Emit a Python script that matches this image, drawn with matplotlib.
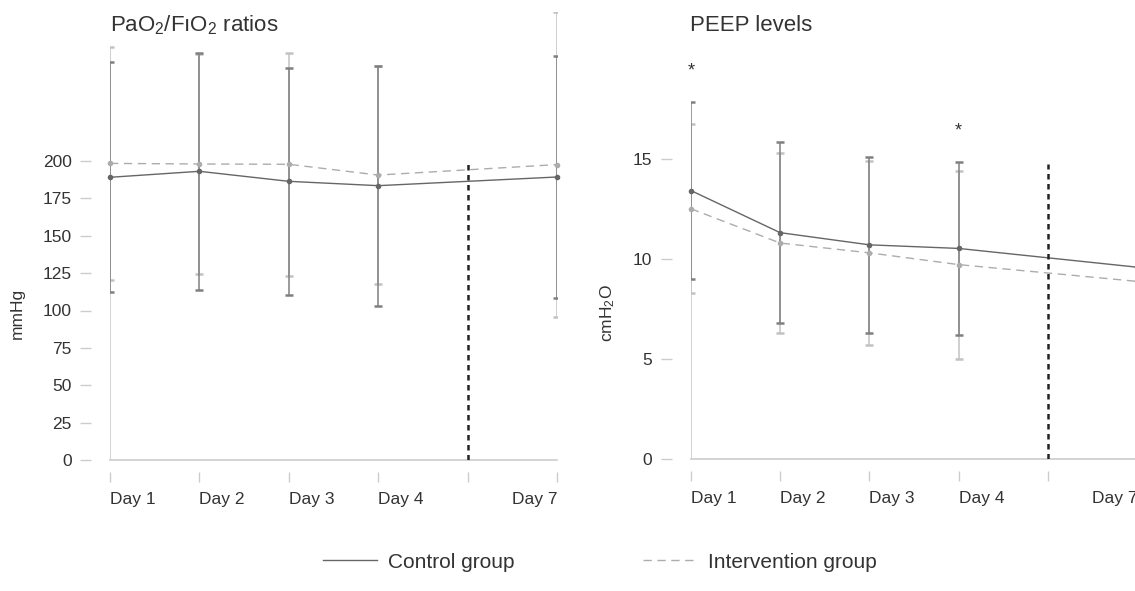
import matplotlib
matplotlib.use('Agg')
import matplotlib.pyplot as plt
from matplotlib.lines import Line2D

plt.rcParams['font.family'] = ['Liberation Sans', 'DejaVu Sans']
plt.rcParams['mathtext.fontset'] = 'custom'
plt.rcParams['mathtext.rm'] = 'Liberation Sans'

# x categories (position 4 is the unlabelled break between day 4 and day 7)
day_labels = ['Day 1', 'Day 2', 'Day 3', 'Day 4', '', 'Day 7']
day_pos = [0, 1, 2, 3, 5]

# PaO2/FiO2 ratios, mean and SD
pf_ctrl = [189.1, 193.1, 186.4, 183.5, 189.3]
pf_ctrl_sd = [77.0, 79.3, 76.0, 80.3, 80.8]
pf_int = [198.4, 198.0, 197.8, 190.6, 197.6]
pf_int_sd = [77.8, 73.6, 74.6, 73.2, 102.2]

# PEEP levels, mean and SD (day 7 bars fall outside the picture)
peep_ctrl = [13.44, 11.33, 10.72, 10.54, 9.60]
peep_ctrl_sd = [4.42, 4.53, 4.42, 4.31]
peep_int = [12.53, 10.81, 10.32, 9.73, 8.89]
peep_int_sd = [4.23, 4.49, 4.62, 4.71]

# significant days in PEEP panel (position, height)
star_pos = [0, 3]
star_y = [19.4, 16.4]

CTRL = '#666666'
CTRL_ERR = '#808080'
INT = '#acacac'
INT_ERR = '#c2c2c2'
AXC = '#cccccc'
TXT = '#333333'
FS = 12.5

W, H = 1135, 591
fig = plt.figure(figsize=(W / 100, H / 100), dpi=100)
ax1 = fig.add_axes([110 / W, 1 - 460 / H, 447 / W, 448.5 / H])
ax2 = fig.add_axes([690.8 / W, 1 - 459 / H, 446.5 / W, 447.5 / H])


def draw_panel(ax, ctrl, ctrl_sd, inter, inter_sd, ylim, yticks, break_top, ytop):
    ax.errorbar(day_pos[:len(inter_sd)], inter[:len(inter_sd)], yerr=inter_sd,
                fmt='none', ecolor=INT_ERR, elinewidth=1.1, capsize=2.8,
                capthick=1.8, zorder=2)
    ax.errorbar(day_pos[:len(ctrl_sd)], ctrl[:len(ctrl_sd)], yerr=ctrl_sd,
                fmt='none', ecolor=CTRL_ERR, elinewidth=1.1, capsize=2.8,
                capthick=1.8, zorder=3)
    ax.plot(day_pos, inter, color=INT, lw=1.0, dashes=(6, 4), marker='o',
            ms=3, mfc=INT, mec=INT, zorder=4, clip_on=False)
    ax.plot(day_pos, ctrl, color=CTRL, lw=1.0, marker='o', ms=3,
            mfc=CTRL, mec=CTRL, zorder=5, clip_on=False)
    ax.vlines(4, 0, break_top, color='#222222', lw=1.8,
              linestyles=(0, (2.2, 1.8)), zorder=6)

    ax.set_xlim(0, 5)
    ax.set_ylim(*ylim)
    ax.set_yticks(yticks)
    ax.set_xticks(range(len(day_labels)))
    ax.set_xticklabels(day_labels)

    for s in ['top', 'right']:
        ax.spines[s].set_visible(False)
    ax.spines['left'].set_position(('outward', 13.7))
    ax.spines['bottom'].set_position(('outward', 8.6))
    ax.spines['left'].set_visible(False)
    ax.spines['bottom'].set_visible(False)
    # axis lines at the data edge
    ax.axhline(0, color=AXC, lw=1.2, zorder=1, clip_on=False)
    ax.axvline(0, ymin=0, ymax=ytop / ylim[1], color=AXC, lw=1.2, zorder=1)

    ax.tick_params(axis='x', length=7.2, width=1, color=AXC, pad=7,
                   labelsize=FS, labelcolor=TXT)
    ax.tick_params(axis='y', length=8, width=1, color=AXC, pad=6,
                   labelsize=FS, labelcolor=TXT)
    for i, lab in enumerate(ax.get_xticklabels()):
        lab.set_horizontalalignment('right' if i == 5 else 'left')
    ax.patch.set_alpha(0)


draw_panel(ax1, pf_ctrl, pf_ctrl_sd, pf_int, pf_int_sd,
           (0, 300), range(0, 201, 25), 200, 200)
draw_panel(ax2, peep_ctrl, peep_ctrl_sd, peep_int, peep_int_sd,
           (0, 22.4), [0, 5, 10, 15], 14.75, 15)

for x, y in zip(star_pos, star_y):
    ax2.text(x, y, '*', ha='center', va='center', fontsize=13, color=TXT)

fig.text(110 / W, 1 - 31 / H, 'PaO$\\mathregular{_2}$/FıO$\\mathregular{_2}$ ratios',
         fontsize=16, color=TXT, va='baseline', ha='left')
fig.text(690 / W, 1 - 31 / H, 'PEEP levels', fontsize=16, color=TXT,
         va='baseline', ha='left')
fig.text(17 / W, 1 - 313 / H, 'mmHg', rotation=90, fontsize=FS, color=TXT,
         ha='center', va='center')
fig.text(608 / W, 1 - 313 / H, 'cmH$\\mathregular{_2}$O', rotation=90,
         fontsize=FS, color=TXT, ha='center', va='center')

handles = [Line2D([], [], color=CTRL, lw=1.0),
           Line2D([], [], color=INT, lw=1.0, dashes=(6, 4))]
fig.legend(handles, ['Control group', 'Intervention group'], loc='center',
           bbox_to_anchor=(600 / W, 1 - 562 / H), ncol=2, frameon=False,
           fontsize=15, handlelength=2.6, handletextpad=0.5,
           columnspacing=6.2, labelcolor=TXT, borderpad=0)

fig.savefig('out.png', dpi=100)
